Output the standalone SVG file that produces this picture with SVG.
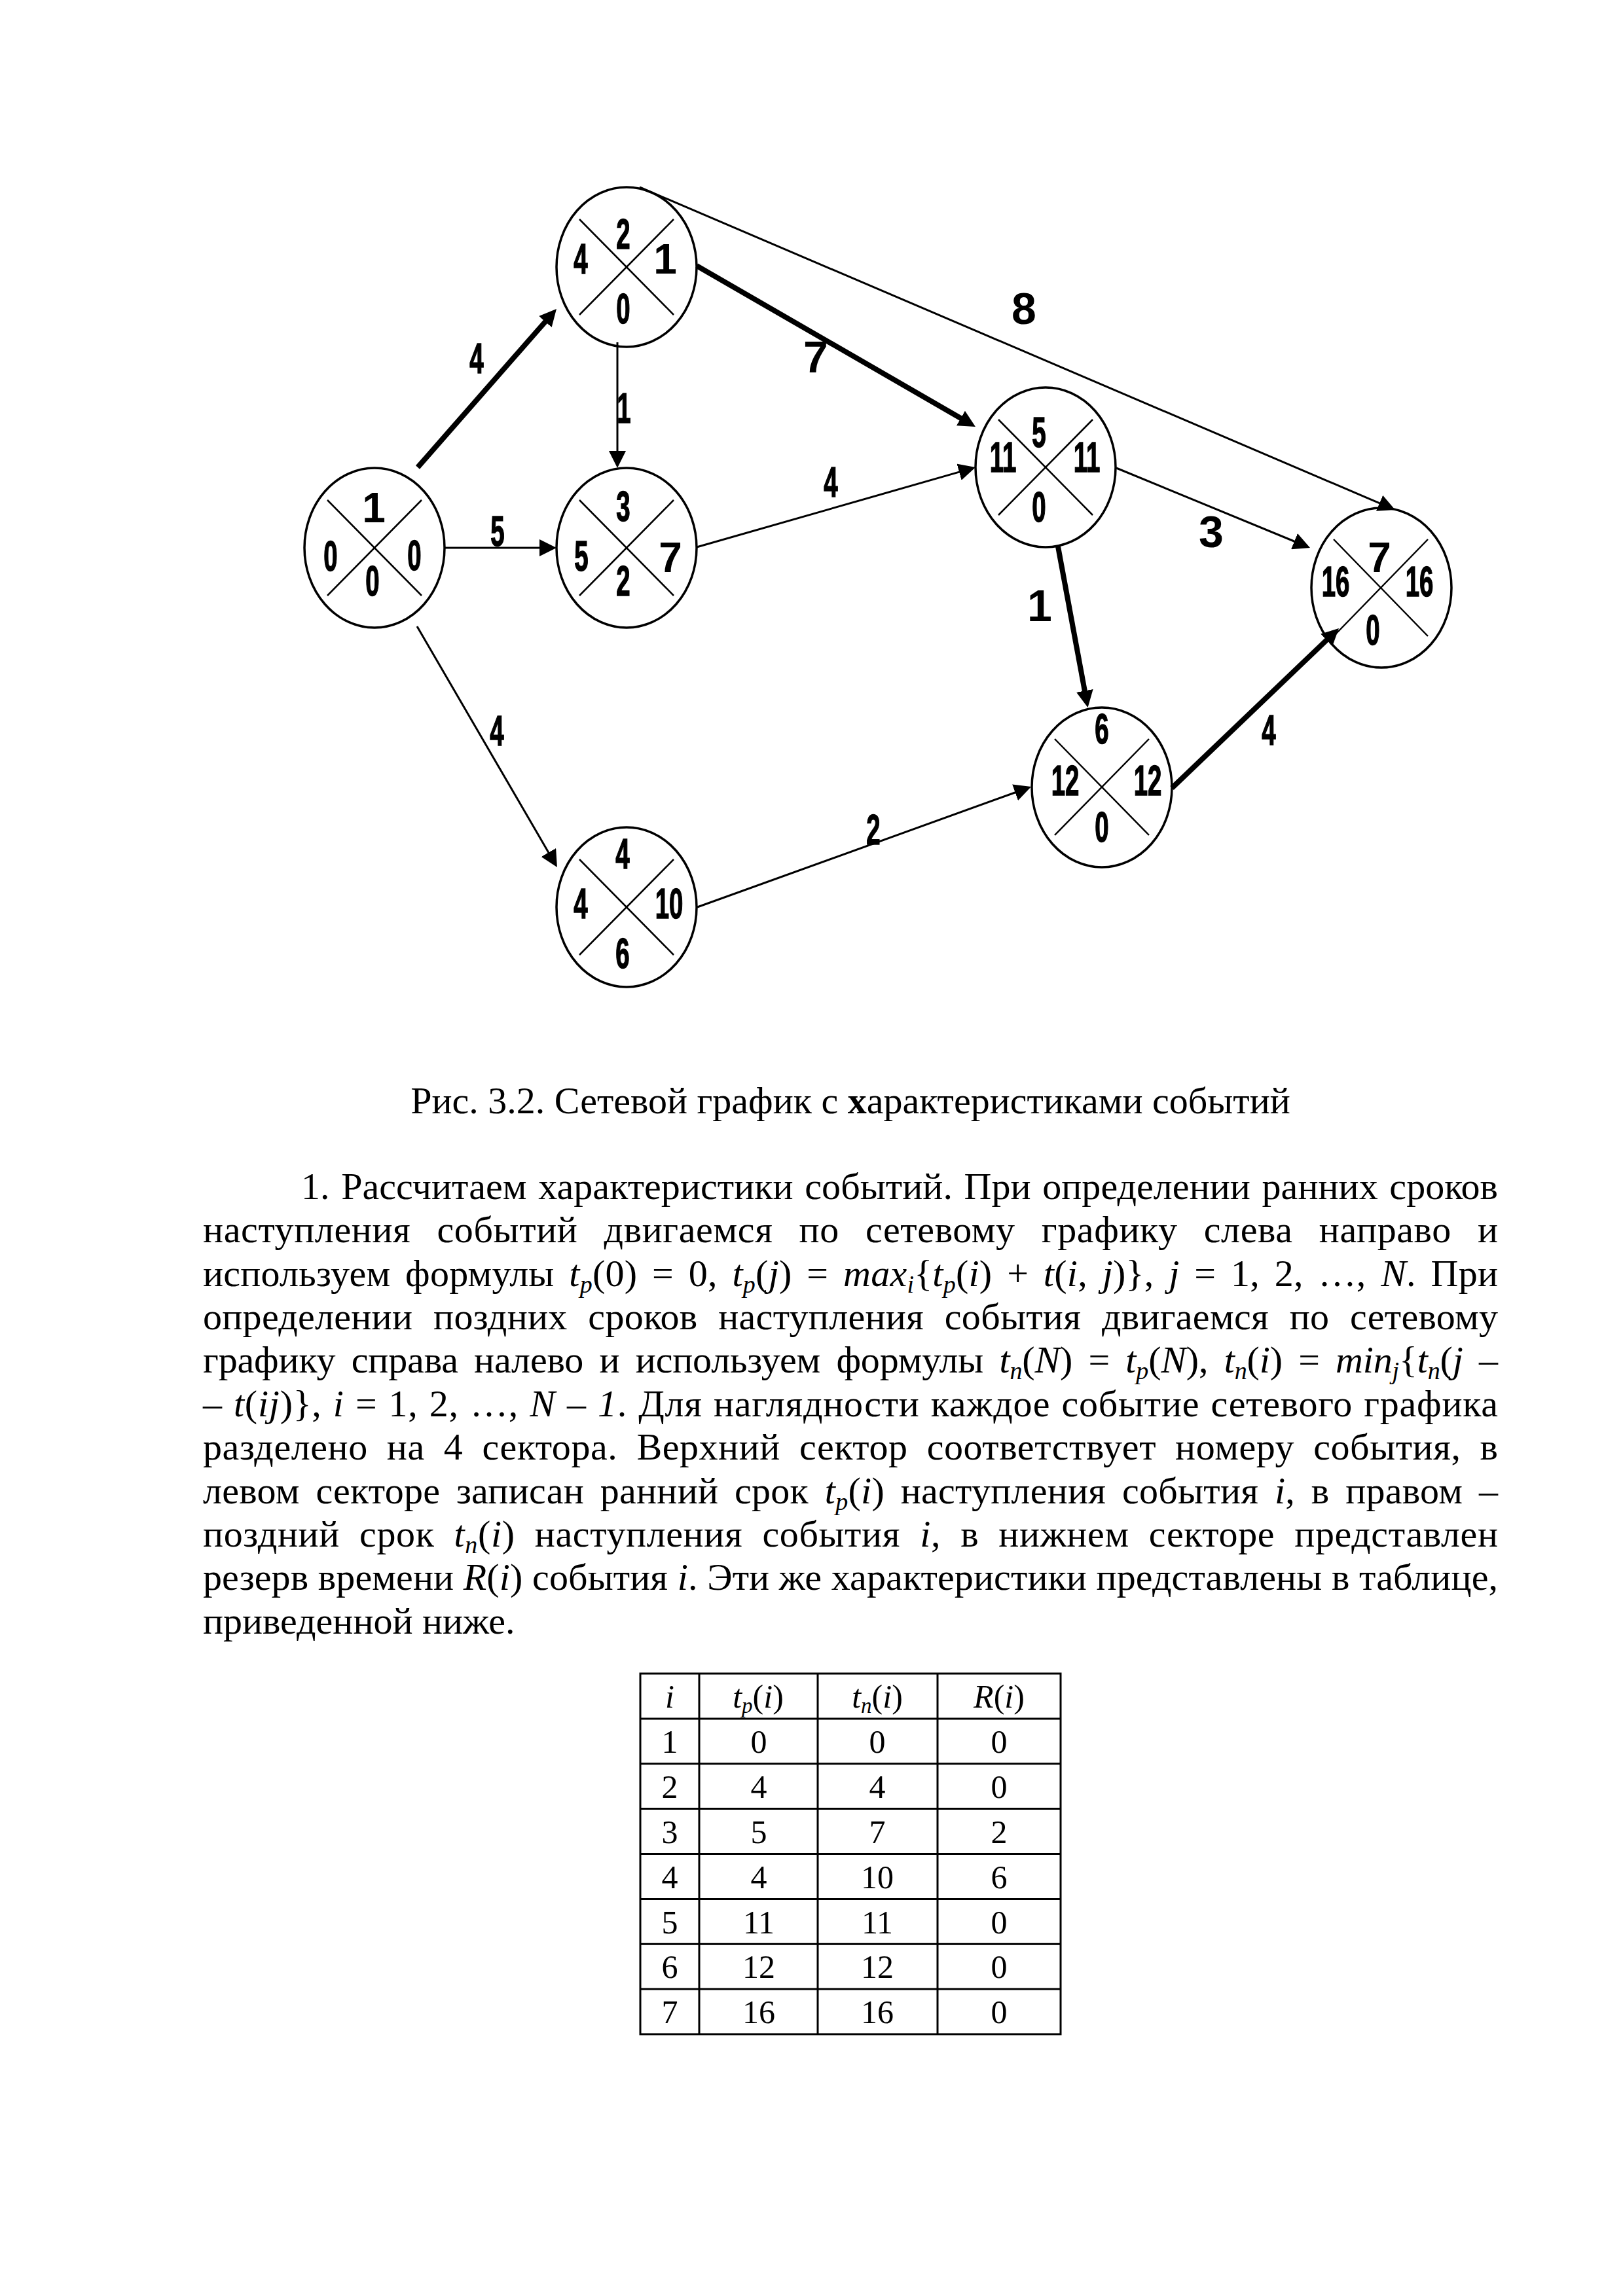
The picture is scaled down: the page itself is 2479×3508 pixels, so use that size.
<svg xmlns="http://www.w3.org/2000/svg" width="2479" height="3508" viewBox="0 0 2479 3508">
<style>
.nd{fill:none;stroke:#000;stroke-width:3.5}
.x{stroke:#000;stroke-width:2.5}
.thin{stroke:#000;stroke-width:3;fill:none}
.thick{stroke:#000;stroke-width:8;fill:none}
.b{font-family:"Liberation Sans",Arial,sans-serif;font-weight:bold;font-size:64px;text-anchor:middle;fill:#000}
.c{stroke:#000;stroke-width:1.5}
.bl{font-size:68px}
.body{font-family:"Liberation Serif","Times New Roman",serif;font-size:58px;fill:#000}
.i{font-style:italic}
.sub{font-size:38px}
.tb{font-family:"Liberation Serif","Times New Roman",serif;font-size:50px;text-anchor:middle;fill:#000}
.tsub{font-size:33px}
.grid{stroke:#000;stroke-width:3;fill:none}
</style>
<defs>
<marker id="ah" viewBox="0 0 26 26" markerWidth="26" markerHeight="26" markerUnits="userSpaceOnUse" refX="1" refY="13" orient="auto">
<path d="M0,0 L26,13 L0,26 z" fill="#000"/>
</marker>
</defs>
<rect width="2479" height="3508" fill="#fff"/>

<g id="node1">
<ellipse class="nd" cx="572" cy="837" rx="107" ry="122"/>
<line class="x" x1="500" y1="764" x2="644" y2="910"/>
<line class="x" x1="500" y1="910" x2="644" y2="764"/>
<text class="b" x="571" y="798">1</text>
<text class="b c" transform="translate(505,872) scale(0.6,1)">0</text>
<text class="b c" transform="translate(633,871) scale(0.6,1)">0</text>
<text class="b c" transform="translate(569,910) scale(0.6,1)">0</text>
</g>
<g id="node2">
<ellipse class="nd" cx="957" cy="408" rx="107" ry="122"/>
<line class="x" x1="885" y1="335" x2="1029" y2="481"/>
<line class="x" x1="885" y1="481" x2="1029" y2="335"/>
<text class="b c" transform="translate(952,380) scale(0.6,1)">2</text>
<text class="b c" transform="translate(887,418) scale(0.6,1)">4</text>
<text class="b" x="1016" y="418">1</text>
<text class="b c" transform="translate(952,494) scale(0.6,1)">0</text>
</g>
<g id="node3">
<ellipse class="nd" cx="957" cy="837" rx="107" ry="122"/>
<line class="x" x1="885" y1="764" x2="1029" y2="910"/>
<line class="x" x1="885" y1="910" x2="1029" y2="764"/>
<text class="b c" transform="translate(952,796) scale(0.6,1)">3</text>
<text class="b c" transform="translate(888,872) scale(0.6,1)">5</text>
<text class="b" x="1024" y="874">7</text>
<text class="b c" transform="translate(952,910) scale(0.6,1)">2</text>
</g>
<g id="node4">
<ellipse class="nd" cx="957" cy="1386" rx="107" ry="122"/>
<line class="x" x1="885" y1="1313" x2="1029" y2="1459"/>
<line class="x" x1="885" y1="1459" x2="1029" y2="1313"/>
<text class="b c" transform="translate(951,1327) scale(0.6,1)">4</text>
<text class="b c" transform="translate(887,1403) scale(0.6,1)">4</text>
<text class="b c" transform="translate(1022,1403) scale(0.6,1)">10</text>
<text class="b c" transform="translate(951,1479) scale(0.6,1)">6</text>
</g>
<g id="node5">
<ellipse class="nd" cx="1597" cy="714" rx="107" ry="122"/>
<line class="x" x1="1525" y1="641" x2="1669" y2="787"/>
<line class="x" x1="1525" y1="787" x2="1669" y2="641"/>
<text class="b c" transform="translate(1587,683) scale(0.6,1)">5</text>
<text class="b c" transform="translate(1532,721) scale(0.6,1)">11</text>
<text class="b c" transform="translate(1660,721) scale(0.6,1)">11</text>
<text class="b c" transform="translate(1587,797) scale(0.6,1)">0</text>
</g>
<g id="node6">
<ellipse class="nd" cx="1683" cy="1203" rx="107" ry="122"/>
<line class="x" x1="1611" y1="1129" x2="1755" y2="1276"/>
<line class="x" x1="1611" y1="1276" x2="1755" y2="1129"/>
<text class="b c" transform="translate(1683,1136) scale(0.6,1)">6</text>
<text class="b c" transform="translate(1627,1215) scale(0.6,1)">12</text>
<text class="b c" transform="translate(1753,1215) scale(0.6,1)">12</text>
<text class="b c" transform="translate(1683,1286) scale(0.6,1)">0</text>
</g>
<g id="node7">
<ellipse class="nd" cx="2110" cy="898" rx="107" ry="122"/>
<line class="x" x1="2037" y1="824" x2="2181" y2="972"/>
<line class="x" x1="2037" y1="972" x2="2181" y2="824"/>
<text class="b" x="2107" y="874">7</text>
<text class="b c" transform="translate(2040,911) scale(0.6,1)">16</text>
<text class="b c" transform="translate(2168,911) scale(0.6,1)">16</text>
<text class="b c" transform="translate(2097,985) scale(0.6,1)">0</text>
</g>

<g id="connectors">
<path class="thick" d="M638,714 L833.5,490.8" marker-end="url(#ah)"/>
<path class="thin" d="M943,523 L943,690" marker-end="url(#ah)"/>
<path class="thin" d="M680,837 L825,837" marker-end="url(#ah)"/>
<path class="thin" d="M637,957 L838.4,1303.4" marker-end="url(#ah)"/>
<path class="thick" d="M1064,406 L1468.3,639.5" marker-end="url(#ah)"/>
<path class="thin" d="M1064,836 L1466,720.9" marker-end="url(#ah)"/>
<path class="thin" d="M977,286 L2108,769.2" marker-end="url(#ah)"/>
<path class="thin" d="M1705,715 L1977.9,827.5" marker-end="url(#ah)"/>
<path class="thick" d="M1616,835 L1657,1056.4" marker-end="url(#ah)"/>
<path class="thin" d="M1065,1386 L1551.5,1210.5" marker-end="url(#ah)"/>
<path class="thick" d="M1790,1204 L2026.9,977.3" marker-end="url(#ah)"/>
<text class="b c" transform="translate(728,570) scale(0.6,1)">4</text>
<text class="b c" transform="translate(953,646) scale(0.6,1)">1</text>
<text class="b c" transform="translate(760,834) scale(0.6,1)">5</text>
<text class="b c" transform="translate(759,1139) scale(0.6,1)">4</text>
<text class="b bl" x="1246" y="569">7</text>
<text class="b c" transform="translate(1269,759) scale(0.6,1)">4</text>
<text class="b bl" x="1564" y="495">8</text>
<text class="b bl" x="1850" y="836">3</text>
<text class="b bl" x="1588" y="949">1</text>
<text class="b c" transform="translate(1334,1290) scale(0.6,1)">2</text>
<text class="b c" transform="translate(1938,1138) scale(0.6,1)">4</text>
</g>

<g id="caption">
<text class="body" x="1299" y="1701" text-anchor="middle">Рис. 3.2. Сетевой график с <tspan font-weight="bold">х</tspan>арактеристиками событий</text>
</g>

<g id="paragraph">
<text class="body" x="460" y="1832" word-spacing="3" textLength="1828" lengthAdjust="spacing">1. Рассчитаем характеристики событий. При определении ранних сроков</text>
<text class="body" x="310" y="1898.4" word-spacing="25" textLength="1978" lengthAdjust="spacing">наступления событий двигаемся по сетевому графику слева направо и</text>
<text class="body" x="310" y="1964.7" word-spacing="8" textLength="1978" lengthAdjust="spacing">используем формулы <tspan class="i">t</tspan><tspan class="i sub" dy="10">p</tspan><tspan dy="-10">(0) = 0, </tspan><tspan class="i">t</tspan><tspan class="i sub" dy="10">p</tspan><tspan dy="-10">(</tspan><tspan class="i">j</tspan>) = <tspan class="i">max</tspan><tspan class="i sub" dy="10">i</tspan><tspan dy="-10">{</tspan><tspan class="i">t</tspan><tspan class="i sub" dy="10">p</tspan><tspan dy="-10">(</tspan><tspan class="i">i</tspan>) + <tspan class="i">t</tspan>(<tspan class="i">i</tspan>, <tspan class="i">j</tspan>)}, <tspan class="i">j</tspan> = 1, 2, …, <tspan class="i">N</tspan>. При</text>
<text class="body" x="310" y="2031.1" word-spacing="17" textLength="1978" lengthAdjust="spacing">определении поздних сроков наступления события двигаемся по сетевому</text>
<text class="body" x="310" y="2097.4" word-spacing="10" textLength="1978" lengthAdjust="spacing">графику справа налево и используем формулы <tspan class="i">t</tspan><tspan class="i sub" dy="10">n</tspan><tspan dy="-10">(</tspan><tspan class="i">N</tspan>) = <tspan class="i">t</tspan><tspan class="i sub" dy="10">p</tspan><tspan dy="-10">(</tspan><tspan class="i">N</tspan>), <tspan class="i">t</tspan><tspan class="i sub" dy="10">n</tspan><tspan dy="-10">(</tspan><tspan class="i">i</tspan>) = <tspan class="i">min</tspan><tspan class="i sub" dy="10">j</tspan><tspan dy="-10">{</tspan><tspan class="i">t</tspan><tspan class="i sub" dy="10">n</tspan><tspan dy="-10">(</tspan><tspan class="i">j</tspan> –</text>
<text class="body" x="310" y="2163.8" word-spacing="2" textLength="1978" lengthAdjust="spacing">– <tspan class="i">t</tspan>(<tspan class="i">ij</tspan>)}, <tspan class="i">i</tspan> = 1, 2, …, <tspan class="i">N</tspan> – <tspan class="i">1</tspan>. Для наглядности каждое событие сетевого графика</text>
<text class="body" x="310" y="2230.1" word-spacing="14" textLength="1978" lengthAdjust="spacing">разделено на 4 сектора. Верхний сектор соответствует номеру события, в</text>
<text class="body" x="310" y="2296.5" word-spacing="10" textLength="1978" lengthAdjust="spacing">левом секторе записан ранний срок <tspan class="i">t</tspan><tspan class="i sub" dy="10">p</tspan><tspan dy="-10">(</tspan><tspan class="i">i</tspan>) наступления события <tspan class="i">i</tspan>, в правом –</text>
<text class="body" x="310" y="2362.8" word-spacing="15" textLength="1978" lengthAdjust="spacing">поздний срок <tspan class="i">t</tspan><tspan class="i sub" dy="10">n</tspan><tspan dy="-10">(</tspan><tspan class="i">i</tspan>) наступления события <tspan class="i">i</tspan>, в нижнем секторе представлен</text>
<text class="body" x="310" y="2429.2" textLength="1978" lengthAdjust="spacing">резерв времени <tspan class="i">R</tspan>(<tspan class="i">i</tspan>) события <tspan class="i">i</tspan>. Эти же характеристики представлены в таблице,</text>
<text class="body" x="310" y="2495.5">приведенной ниже.</text>
</g>

<g id="table">
<rect class="grid" x="978" y="2557" width="642" height="551"/>
<line class="grid" x1="978" y1="2625.9" x2="1620" y2="2625.9"/>
<line class="grid" x1="978" y1="2694.8" x2="1620" y2="2694.8"/>
<line class="grid" x1="978" y1="2763.6" x2="1620" y2="2763.6"/>
<line class="grid" x1="978" y1="2832.5" x2="1620" y2="2832.5"/>
<line class="grid" x1="978" y1="2901.4" x2="1620" y2="2901.4"/>
<line class="grid" x1="978" y1="2970.3" x2="1620" y2="2970.3"/>
<line class="grid" x1="978" y1="3039.1" x2="1620" y2="3039.1"/>
<line class="grid" x1="1068" y1="2557" x2="1068" y2="3108"/>
<line class="grid" x1="1249" y1="2557" x2="1249" y2="3108"/>
<line class="grid" x1="1432" y1="2557" x2="1432" y2="3108"/>
<text class="tb i" x="1023" y="2609">i</text>
<text class="tb" x="1158" y="2609"><tspan class="i">t</tspan><tspan class="i tsub" dy="8">p</tspan><tspan dy="-8">(</tspan><tspan class="i">i</tspan>)</text>
<text class="tb" x="1340" y="2609"><tspan class="i">t</tspan><tspan class="i tsub" dy="8">n</tspan><tspan dy="-8">(</tspan><tspan class="i">i</tspan>)</text>
<text class="tb" x="1526" y="2609"><tspan class="i">R</tspan>(<tspan class="i">i</tspan>)</text>
<text class="tb" x="1023" y="2678">1</text><text class="tb" x="1159" y="2678">0</text><text class="tb" x="1340" y="2678">0</text><text class="tb" x="1526" y="2678">0</text>
<text class="tb" x="1023" y="2747">2</text><text class="tb" x="1159" y="2747">4</text><text class="tb" x="1340" y="2747">4</text><text class="tb" x="1526" y="2747">0</text>
<text class="tb" x="1023" y="2816">3</text><text class="tb" x="1159" y="2816">5</text><text class="tb" x="1340" y="2816">7</text><text class="tb" x="1526" y="2816">2</text>
<text class="tb" x="1023" y="2885">4</text><text class="tb" x="1159" y="2885">4</text><text class="tb" x="1340" y="2885">10</text><text class="tb" x="1526" y="2885">6</text>
<text class="tb" x="1023" y="2954">5</text><text class="tb" x="1159" y="2954">11</text><text class="tb" x="1340" y="2954">11</text><text class="tb" x="1526" y="2954">0</text>
<text class="tb" x="1023" y="3022">6</text><text class="tb" x="1159" y="3022">12</text><text class="tb" x="1340" y="3022">12</text><text class="tb" x="1526" y="3022">0</text>
<text class="tb" x="1023" y="3091">7</text><text class="tb" x="1159" y="3091">16</text><text class="tb" x="1340" y="3091">16</text><text class="tb" x="1526" y="3091">0</text>
</g>
</svg>
